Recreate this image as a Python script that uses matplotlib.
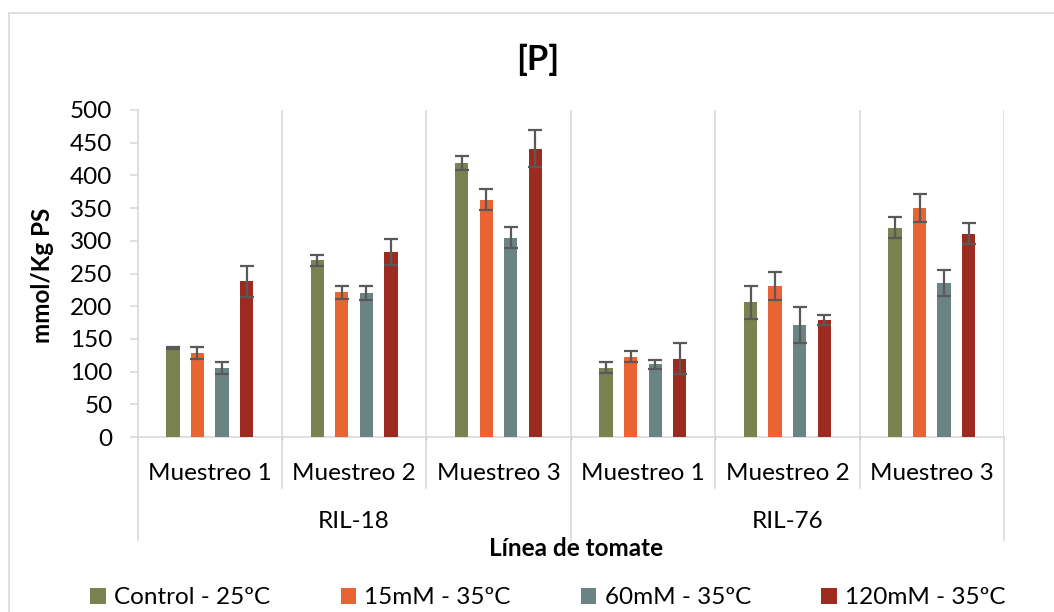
import matplotlib
matplotlib.use("Agg")
import matplotlib.pyplot as plt
import numpy as np
from matplotlib.patches import Rectangle
from matplotlib.lines import Line2D

plt.rcParams['font.family'] = ['Lato', 'DejaVu Sans']

lines = ["RIL-18", "RIL-76"]
samplings = ["Muestreo 1", "Muestreo 2", "Muestreo 3"]
series = ["Control - 25ºC", "15mM - 35ºC", "60mM - 35ºC", "120mM - 35ºC"]
colors = ["#7A8250", "#E96433", "#6B8383", "#9C2B1F"]

control = [136, 270, 419, 106, 206, 320]
mm15 = [128, 221, 363, 123, 231, 350]
mm60 = [105, 220, 305, 111, 171, 236]
mm120 = [238, 283, 441, 120, 179, 311]

control_err = [2, 9, 11, 8, 25, 16]
mm15_err = [9, 10, 16, 8, 21, 22]
mm60_err = [9, 11, 16, 7, 28, 20]
mm120_err = [24, 20, 28, 23, 7, 16]

values = [control, mm15, mm60, mm120]
errors = [control_err, mm15_err, mm60_err, mm120_err]

W, H = 1054, 612
fig = plt.figure(figsize=(W / 100, H / 100), dpi=100)
fig.patch.set_facecolor("white")

# chart border
fig.patches.append(Rectangle((8.5 / W, -0.01), 1.1, 1 - 12.5 / H + 0.01, transform=fig.transFigure,
                             fill=False, edgecolor="#D9D9D9", linewidth=1.2))

FS = 17.5
left, right, top, bottom = 137.5, 1004, 110, 437
ax = fig.add_axes([left / W, 1 - bottom / H, (right - left) / W, (bottom - top) / H])

n = len(control)
x = np.arange(n)
bw = 0.092
offsets = [-0.255, -0.085, 0.085, 0.255]
for vals, errs, col, off, name in zip(values, errors, colors, offsets, series):
    ax.bar(x + off, vals, width=bw, color=col, label=name, zorder=3)
    ax.errorbar(x + off, vals, yerr=errs, fmt="none", ecolor="#595959",
                elinewidth=1.6, capsize=4.8, capthick=1.6, zorder=4)

ax.set_xlim(-0.5, n - 0.5)
ax.set_ylim(0, 500)
ax.set_yticks(np.arange(0, 501, 50))
ax.tick_params(axis="y", labelsize=FS, length=6, color="#D9D9D9", width=1.2, pad=12)
ax.tick_params(axis="x", length=0, labelbottom=False)
for s in ["top", "right"]:
    ax.spines[s].set_visible(False)
ax.spines["left"].set_color("#D9D9D9")
ax.spines["left"].set_linewidth(1.2)
ax.spines["bottom"].set_color("#D9D9D9")
ax.spines["bottom"].set_linewidth(1.2)
ax.set_xticks(np.arange(0.5, n - 0.5, 1), minor=True)
ax.grid(axis="x", which="minor", color="#D9D9D9", linewidth=1.2, zorder=0)
ax.axvline(n - 0.5, color="#D9D9D9", linewidth=1.2, zorder=0)

# multi-level category axis below the plot
trans = ax.get_xaxis_transform()
minor_len = (488 - bottom) / (bottom - top)
major_len = (540 - bottom) / (bottom - top)
for i in range(n + 1):
    xb = i - 0.5
    ln = major_len if i % 3 == 0 else minor_len
    ax.add_line(Line2D([xb, xb], [0, -ln], transform=trans, color="#D9D9D9",
                       linewidth=1.2, clip_on=False))
y_m = -(473 - bottom) / (bottom - top)
for i in range(n):
    ax.text(i, y_m, samplings[i % 3], transform=trans, ha="center", va="center",
            fontsize=FS, clip_on=False)
y_r = -(521 - bottom) / (bottom - top)
for j, ln_name in enumerate(lines):
    ax.text(3 * j + 1, y_r, ln_name, transform=trans, ha="center", va="center",
            fontsize=FS, clip_on=False)

fig.text(576 / W, 1 - 548 / H, "Línea de tomate", ha="center", va="center",
         fontsize=17.5, fontweight="bold")
fig.text(42 / W, 1 - 275 / H, "mmol/Kg PS", ha="center", va="center",
         fontsize=17.5, fontweight="bold", rotation=90)
fig.text(538 / W, 1 - 60 / H, "[P]", ha="center", va="center",
         fontsize=25, fontweight="bold")

handles, labels = ax.get_legend_handles_labels()
fig.legend(handles, labels, loc="center", bbox_to_anchor=(548 / W, 1 - 598 / H), ncol=4,
           frameon=False, fontsize=FS, handlelength=0.62, handleheight=0.62,
           handletextpad=0.35, columnspacing=2.9, borderpad=0, borderaxespad=0)

fig.savefig("out.png", dpi=100, facecolor="white")
